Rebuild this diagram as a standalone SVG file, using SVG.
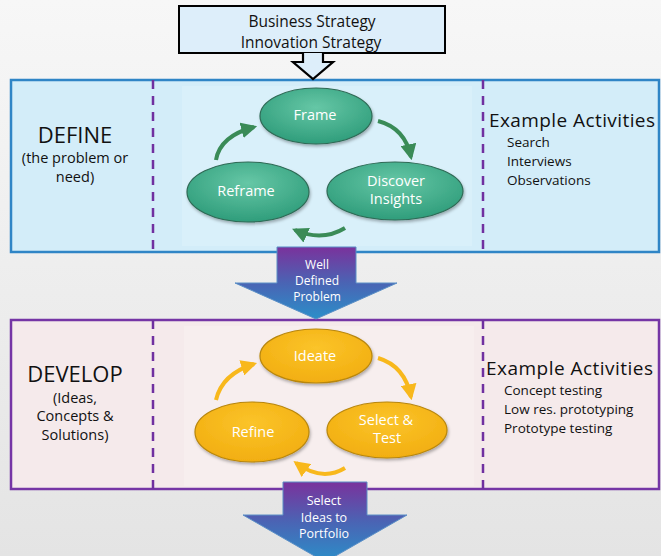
<svg xmlns="http://www.w3.org/2000/svg" width="661" height="556" viewBox="0 0 661 556">
<style>
text{font-family:"Open Sans","Liberation Sans",sans-serif;}
.lbl{fill:#111;}
.w{fill:#fff;text-anchor:middle;}
.dash{stroke:#7030a0;stroke-width:2.5;stroke-dasharray:9 7;fill:none;}
.ga{fill:none;stroke:#3a8b57;stroke-width:4;marker-end:url(#mg);}
.ya{fill:none;stroke:#f8b81c;stroke-width:4;marker-end:url(#my);}
.ge{fill:url(#gG);stroke:#2e6a55;stroke-width:1.2;}
.ye{fill:url(#gY);stroke:#b8860b;stroke-width:1.2;}
</style>
<defs>
<linearGradient id="bg" x1="0" y1="0" x2="0" y2="1"><stop offset="0" stop-color="#f7f7f7"/><stop offset="1" stop-color="#e4e4e4"/></linearGradient>
<radialGradient id="gG" cx="0.5" cy="0.35" r="0.65"><stop offset="0" stop-color="#66c7a6"/><stop offset="1" stop-color="#2f9d7b"/></radialGradient>
<radialGradient id="gY" cx="0.5" cy="0.35" r="0.65"><stop offset="0" stop-color="#fbc42a"/><stop offset="1" stop-color="#f2ae10"/></radialGradient>
<linearGradient id="ag" x1="0" y1="0" x2="0" y2="1"><stop offset="0" stop-color="#7a329c"/><stop offset="0.5" stop-color="#4a64b4"/><stop offset="1" stop-color="#2b8fc9"/></linearGradient>
<filter id="sh" x="-20%" y="-20%" width="140%" height="150%"><feDropShadow dx="1" dy="2" stdDeviation="1.5" flood-color="#000" flood-opacity="0.3"/></filter>
<marker id="mg" viewBox="0 0 10 10" refX="8" refY="5" markerUnits="userSpaceOnUse" markerWidth="16" markerHeight="16" orient="auto"><path d="M0,0 L10,5 L0,10 z" fill="#3a8b57"/></marker>
<marker id="my" viewBox="0 0 10 10" refX="8" refY="5" markerUnits="userSpaceOnUse" markerWidth="16" markerHeight="16" orient="auto"><path d="M0,0 L10,5 L0,10 z" fill="#f8b81c"/></marker>
</defs>
<rect width="661" height="556" fill="url(#bg)"/>

<g id="strategy">
<rect x="179" y="6" width="266" height="47" fill="#ddeefa" stroke="#000" stroke-width="2"/>
<text x="312" y="27" text-anchor="middle" font-size="15.5" class="lbl">Business Strategy</text>
<text x="311" y="48" text-anchor="middle" font-size="15.5" class="lbl">Innovation Strategy</text>
</g>

<g id="define">
<rect x="11" y="80" width="648" height="172" fill="#d3edf9" stroke="#2f85c6" stroke-width="2.5"/>
<rect x="182" y="86" width="290" height="160" fill="#d9f0fa"/>
<line x1="153" y1="80" x2="153" y2="252" class="dash"/>
<line x1="483" y1="80" x2="483" y2="252" class="dash"/>
<text x="75" y="143" text-anchor="middle" font-size="22" class="lbl">DEFINE</text>
<text x="75" y="163" text-anchor="middle" font-size="14.5" class="lbl">(the problem or</text>
<text x="75" y="182" text-anchor="middle" font-size="14.5" class="lbl">need)</text>
<text x="489" y="127" font-size="19" textLength="166" lengthAdjust="spacing" class="lbl">Example Activities</text>
<text x="507" y="147" font-size="13.5" class="lbl">Search</text>
<text x="507" y="166" font-size="13.5" class="lbl">Interviews</text>
<text x="507" y="185" font-size="13.5" class="lbl">Observations</text>
</g>

<g id="frame"><ellipse cx="316" cy="116" rx="56" ry="28" class="ge" filter="url(#sh)"/><text x="315" y="120" font-size="14.5" class="w">Frame</text></g>
<g id="reframe"><ellipse cx="248" cy="192" rx="61" ry="30" class="ge" filter="url(#sh)"/><text x="246" y="196" font-size="14.5" class="w">Reframe</text></g>
<g id="discover"><ellipse cx="395" cy="191" rx="68" ry="29" class="ge" filter="url(#sh)"/><text x="396" y="186" font-size="14.5" class="w">Discover</text><text x="396" y="204" font-size="14.5" class="w">Insights</text></g>

<g id="develop">
<rect x="11" y="320" width="648" height="169" fill="#f5eaeb" stroke="#7535a5" stroke-width="2.5"/>
<rect x="184" y="326" width="290" height="160" fill="#f7eeee"/>
<line x1="153" y1="320" x2="153" y2="489" class="dash"/>
<line x1="483" y1="320" x2="483" y2="489" class="dash"/>
<text x="75" y="382" text-anchor="middle" font-size="22" class="lbl">DEVELOP</text>
<text x="75" y="403" text-anchor="middle" font-size="14.5" class="lbl">(Ideas,</text>
<text x="75" y="421" text-anchor="middle" font-size="14.5" class="lbl">Concepts &amp;</text>
<text x="75" y="440" text-anchor="middle" font-size="14.5" class="lbl">Solutions)</text>
<text x="486" y="375" font-size="19" textLength="167" lengthAdjust="spacing" class="lbl">Example Activities</text>
<text x="504" y="395" font-size="13.5" class="lbl">Concept testing</text>
<text x="504" y="414" font-size="13.5" class="lbl">Low res. prototyping</text>
<text x="504" y="433" font-size="13.5" class="lbl">Prototype testing</text>
</g>

<g id="ideate"><ellipse cx="316" cy="356" rx="56" ry="27" class="ye" filter="url(#sh)"/><text x="315" y="361" font-size="14.5" class="w">Ideate</text></g>
<g id="refine"><ellipse cx="252" cy="432" rx="57" ry="30" class="ye" filter="url(#sh)"/><text x="253" y="437" font-size="14.5" class="w">Refine</text></g>
<g id="selecttest"><ellipse cx="387" cy="430" rx="60" ry="28" class="ye" filter="url(#sh)"/><text x="386" y="425" font-size="14.5" class="w">Select &amp;</text><text x="387" y="443" font-size="14.5" class="w">Test</text></g>

<g id="well-defined">
<path d="M277,247 H356 V283 H397 L316,319 L235,283 H277 Z" fill="url(#ag)" stroke="#5b8fc6" stroke-width="1"/>
<text x="317" y="269" font-size="12" class="w">Well</text>
<text x="317" y="285" font-size="12" class="w">Defined</text>
<text x="317" y="301" font-size="12" class="w">Problem</text>
</g>

<g id="select-ideas">
<path d="M283,482 H367 V515 H407 L325,562 L243,515 H283 Z" fill="url(#ag)" stroke="#5b8fc6" stroke-width="1"/>
<text x="324" y="505" font-size="12.5" class="w">Select</text>
<text x="324" y="522" font-size="12.5" class="w">Ideas to</text>
<text x="324" y="538" font-size="12.5" class="w">Portfolio</text>
</g>

<g id="connectors">
<path d="M303,53 V62 H293 L313,79 L333,62 H323 V53" fill="#ddeefa" stroke="#000" stroke-width="2.2" stroke-linejoin="miter"/>
<path d="M378,121 Q405,128 411,157" class="ga"/>
<path d="M216,160 Q220,136 254,127" class="ga"/>
<path d="M345,228 Q322,242 295,230" class="ga"/>
<path d="M378,358 Q405,366 411,397" class="ya"/>
<path d="M216,400 Q222,374 254,364" class="ya"/>
<path d="M345,468 Q322,482 296,463" class="ya"/>
</g>
</svg>
